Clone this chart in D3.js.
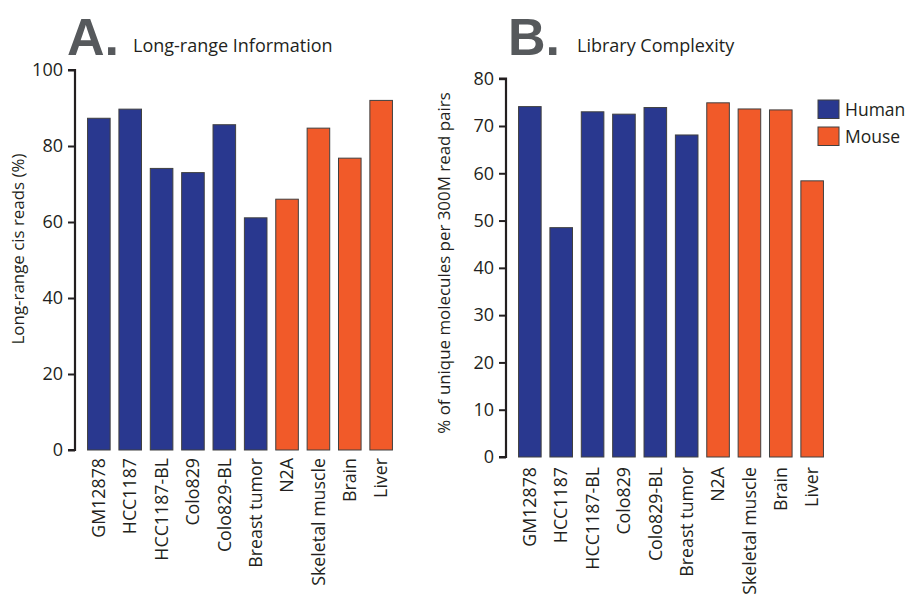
<!DOCTYPE html>
<html>
<head>
<meta charset="utf-8">
<script src="https://cdn.jsdelivr.net/npm/d3@7"></script>
<style>
  body { margin: 0; background: #fff; }
  svg text { font-family: "Open Sans", sans-serif; fill: #231f20; }
</style>
</head>
<body>
<div id="chart"></div>
<script>
// define constants
const w = 909;
const h = 597;
const blue = "#29388f";
const orange = "#f15a29";

// data
const samples = ["GM12878", "HCC1187", "HCC1187-BL", "Colo829", "Colo829-BL", "Breast tumor", "N2A", "Skeletal muscle", "Brain", "Liver"];
const species = ["Human", "Human", "Human", "Human", "Human", "Human", "Mouse", "Mouse", "Mouse", "Mouse"];
const cisReads = [87.3, 89.7, 74.1, 73.0, 85.6, 61.1, 66.0, 84.7, 76.8, 92.0];
const complexity = [74.1, 48.5, 73.0, 72.5, 73.9, 68.1, 74.9, 73.6, 73.4, 58.4];
const ticksA = [0, 20, 40, 60, 80, 100];
const ticksB = [0, 10, 20, 30, 40, 50, 60, 70, 80];
const legendKeys = ["Human", "Mouse"];

const color = d3.scaleOrdinal().domain(legendKeys).range([blue, orange]);

const svg = d3.select("#chart").append("svg").attr("width", w).attr("height", h);

// draw one bar panel
const panel = (opt) => {
    const x = d3.scaleBand().domain(samples)
        .range([opt.left, opt.left + 330]).paddingInner(0.28).paddingOuter(0.4);
    const y = d3.scaleLinear().domain([0, opt.max]).range([opt.bottom, opt.top]);

    // bars
    svg.append("g").selectAll("rect")
        .data(opt.values)
        .join("rect")
        .attr("x", (d, i) => x(samples[i]))
        .attr("y", d => y(d))
        .attr("width", x.bandwidth())
        .attr("height", d => y(0) - y(d))
        .attr("fill", (d, i) => color(species[i]))
        .attr("stroke", "#404040")
        .attr("stroke-width", 1);

    // y axis
    const yAxis = svg.append("g")
        .attr("transform", "translate(" + opt.left + ",0)")
        .call(d3.axisLeft(y).tickValues(opt.ticks).tickSize(7).tickPadding(5));
    yAxis.select(".domain").attr("stroke", "#231f20").attr("stroke-width", 2.2)
        .attr("d", "M-7," + y(opt.max) + "H0V" + y(0) + "H-7");
    yAxis.selectAll(".tick line").attr("stroke", "#231f20").attr("stroke-width", 2);
    yAxis.selectAll(".tick text").attr("font-size", 18).attr("font-family", "Open Sans").attr("fill", "#231f20");

    // x labels
    const xAxis = svg.append("g")
        .attr("transform", "translate(0," + y(0) + ")")
        .call(d3.axisBottom(x).tickSize(0).tickPadding(0));
    xAxis.select(".domain").remove();
    xAxis.selectAll(".tick text")
        .attr("font-size", 17.8)
        .attr("font-family", "Open Sans")
        .attr("fill", "#231f20")
        .attr("text-anchor", "end")
        .attr("transform", "translate(0," + opt.labelGap + ") rotate(-90)")
        .attr("dy", "0.35em")
        .attr("x", 0).attr("y", 0);

    // y title
    svg.append("text")
        .attr("transform", "translate(" + opt.titleX + "," + opt.titleY + ") rotate(-90)")
        .attr("text-anchor", "middle")
        .attr("font-size", 16.9)
        .text(opt.yTitle);

    // panel letter and heading
    svg.append("text")
        .attr("x", opt.letterX).attr("y", 55)
        .attr("font-size", 52).attr("font-weight", "bold")
        .style("font-family", "Liberation Sans")
        .style("fill", "#56595c")
        .text(opt.letter);
    svg.append("text")
        .attr("x", opt.headX).attr("y", 52)
        .attr("font-size", 18)
        .text(opt.heading);
};

panel({
    left: 75, top: 70, bottom: 450, max: 100, values: cisReads, ticks: ticksA,
    labelGap: 8, titleX: 24, titleY: 249, yTitle: "Long-range cis reads (%)",
    letter: "A.", letterX: 67, headX: 133, heading: "Long-range Information"
});
panel({
    left: 506, top: 78.7, bottom: 457, max: 80, values: complexity, ticks: ticksB,
    labelGap: 10, titleX: 450, titleY: 263, yTitle: "% of unique molecules per 300M read pairs",
    letter: "B.", letterX: 508, headX: 577, heading: "Library Complexity"
});

// legend
const legend = svg.append("g").attr("transform", "translate(818,100)");
legend.selectAll("rect")
    .data(legendKeys)
    .join("rect")
    .attr("x", 0).attr("y", (d, i) => i * 27)
    .attr("width", 21).attr("height", 18.5)
    .attr("fill", d => color(d))
    .attr("stroke", "#404040").attr("stroke-width", 1);
legend.selectAll("text")
    .data(legendKeys)
    .join("text")
    .attr("x", 27).attr("y", (d, i) => i * 27 + 16)
    .attr("font-size", 17.5)
    .text(d => d);
</script>
</body>
</html>
